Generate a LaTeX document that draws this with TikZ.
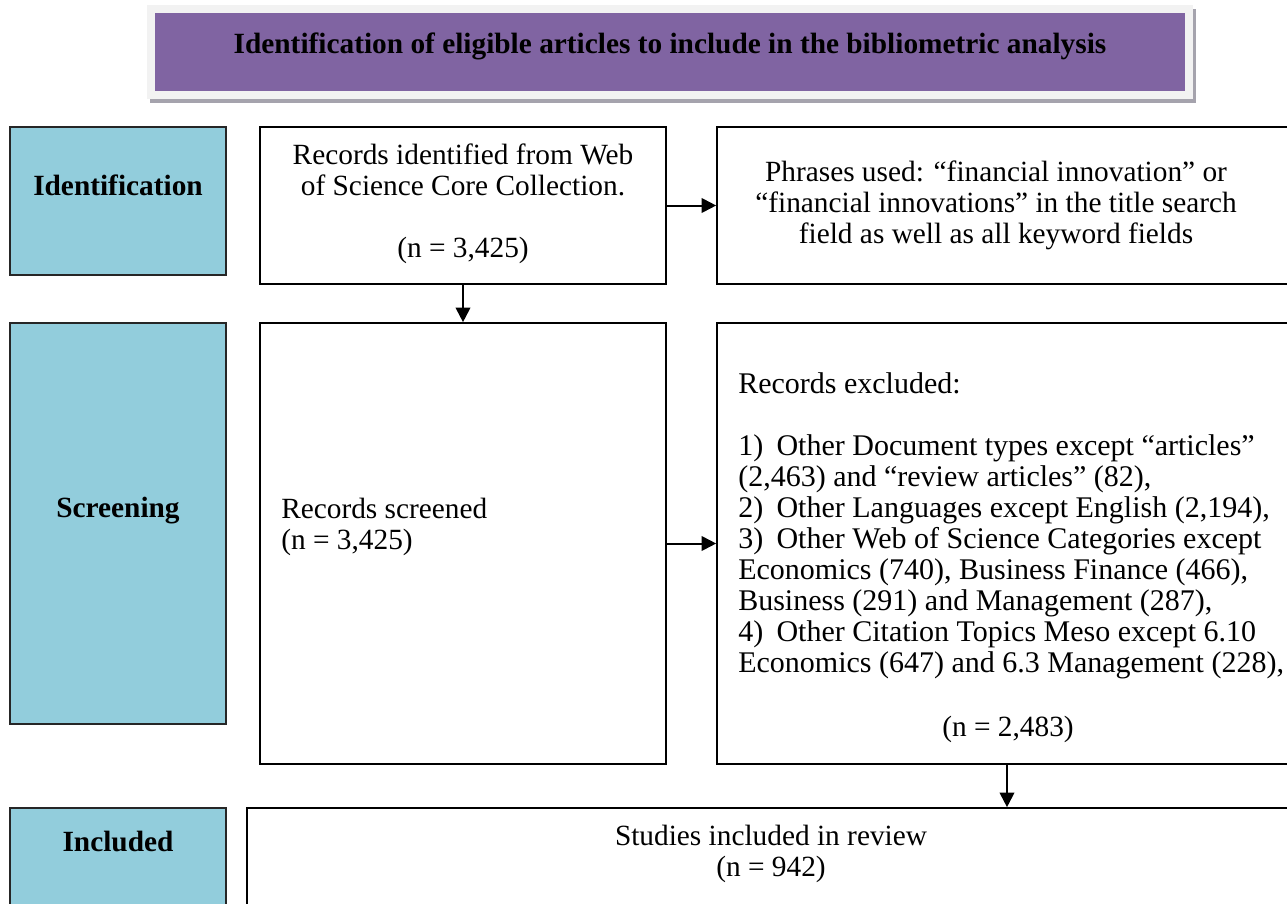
\documentclass[tikz,border=0pt]{standalone}
\usepackage{fontspec}
\setmainfont{Liberation Serif}
\usetikzlibrary{arrows.meta,fit}
\definecolor{stageblue}{HTML}{92CDDC}
\definecolor{titlepurple}{HTML}{8064A2}
\definecolor{framegray}{HTML}{F2F2F2}
\definecolor{shadowgray}{HTML}{A5A3AD}
\newcommand{\numgap}{\;\,}
\tikzset{
  x=0.75pt,y=-0.75pt,
  box/.style={draw=black,line width=1.25pt,fill=white,inner sep=0pt},
  stagebox/.style={draw=black!85,line width=1.5pt,fill=stageblue,inner sep=0pt},
  stagetext/.style={font=\fontsize{22}{23.25}\selectfont\bfseries,inner sep=0pt},
  bodytext/.style={font=\fontsize{22}{23.25}\selectfont,inner sep=0pt},
  listtext/.style={font=\fontsize{22.5}{23.25}\selectfont,inner sep=0pt},
  arr/.style={line width=1.5pt,-{Triangle[length=11pt,width=11pt]}},
}
\begin{document}
\begin{tikzpicture}
\useasboundingbox (0,0) rectangle (1287,903);
\clip (0,0) rectangle (1287,903);
\fill[white] (0,0) rectangle (1287,903);
% title
\fill[shadowgray] (150,9) rectangle (1196,103);
\fill[framegray] (147,5) rectangle (1193,99);
\node[fill=titlepurple,inner sep=0pt,fit={(155,13)(1185,91)}] (title) {};
\node[stagetext,anchor=base] (titletext) at (670,53) {Identification of eligible articles to include in the bibliometric analysis};
% stage boxes
\node[stagebox,fit={(10,127)(226,275)}] (idbox) {};
\node[stagetext,anchor=base] (idtext) at (118,195) {Identification};
\node[stagebox,fit={(10,323)(226,724)}] (scbox) {};
\node[stagetext,anchor=base] (sctext) at (118,517) {Screening};
\node[stagebox,fit={(10,808)(226,920)}] (inbox) {};
\node[stagetext,anchor=base] (intext) at (118,851) {Included};
% flow boxes
\node[box,fit={(260,127)(666,284)}] (rec) {};
\node[bodytext,anchor=north,align=center] (rectext) at (463,144) {Records identified from Web\\of Science Core Collection.\\[23.25pt](n = 3,425)};
\node[box,fit={(717,127)(1297,284)}] (phr) {};
\node[bodytext,anchor=north,align=center] (phrtext) at (996,161) {Phrases used: “financial innovation” or\\“financial innovations” in the title search\\field as well as all keyword fields};
\node[box,fit={(260,323)(666,764)}] (scr) {};
\node[bodytext,anchor=north west,align=left] (scrtext) at (281,498) {Records screened\\(n = 3,425)};
\node[box,fit={(717,323)(1297,764)}] (exc) {};
\node[listtext,anchor=north west,align=left] (exctext) at (738,372) {Records excluded:\\[23.25pt]1)\numgap Other Document types except “articles”\\(2,463) and “review articles” (82),\\2)\numgap Other Languages except English (2,194),\\3)\numgap Other Web of Science Categories except\\Economics (740), Business Finance (466),\\Business (291) and Management (287),\\4)\numgap Other Citation Topics Meso except 6.10\\Economics (647) and 6.3 Management (228),};
\node[bodytext,anchor=base] (excn) at (1008,736) {(n = 2,483)};
\node[box,fit={(247,808)(1297,920)}] (inc) {};
\node[bodytext,anchor=north,align=center] (inctext) at (771,825) {Studies included in review\\(n = 942)};
% connectors
\draw[arr] (rec.east) -- (phr.west);
\draw[arr] (rec.south) -- (scr.north);
\draw[arr] (scr.east |- exc.west) -- (exc.west);
\draw[arr] (exc.south) -- (exc.south |- inc.north);
\end{tikzpicture}
\end{document}
